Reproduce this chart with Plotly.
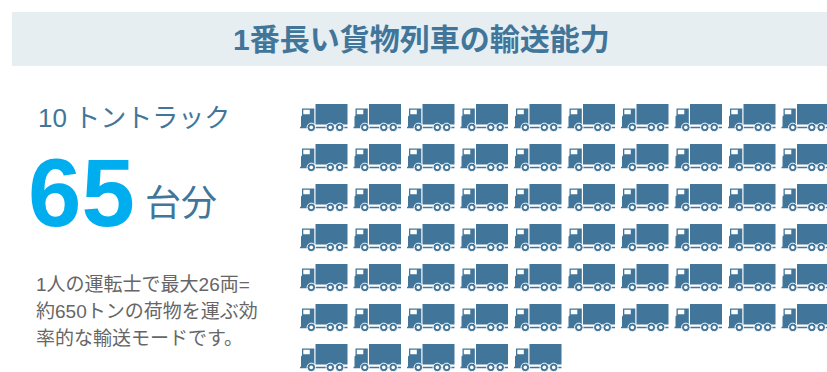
import plotly.graph_objects as go

# Pictogram contents
TITLE = "1番長い貨物列車の輸送能力"
UNIT_LABEL = "10 トントラック"
TRUCK_COUNT = 65
COUNT_SUFFIX = "台分"
NOTE_LINES = ["1人の運転士で最大26両=", "約650トンの荷物を運ぶ効", "率的な輸送モードです。"]
COLUMNS = 10

# Colours
BLUE = "#41769a"
CYAN = "#00aeef"
BAND = "#e6eef2"
GREY = "#666666"
JP = "Liberation Sans, Noto Sans CJK JP"

# Grid layout, in page pixels
X0, Y0, DX, DY = 300, 104, 53.5, 40

# Truck glyph outline, relative to its top-left corner
BOX = [(15.5, 0), (47.5, 0), (47.5, 20.5), (15.5, 20.5)]
CAB = [(2, 4.5), (14.3, 4.5), (14.3, 21), (14, 23), (1, 23), (1, 12.5), (2, 11.5)]
WINDOW = [(3.3, 5.7), (9.8, 5.7), (9.8, 10.2), (3.3, 10.2)]
CHASSIS = [(0, 22.7), (47.5, 22.7), (47.5, 24.3), (0, 24.3)]
WHEEL_X = [11.3, 30.3, 39.7]
WHEEL_Y = 23.4

origins = [(X0 + DX * (i % COLUMNS), Y0 + DY * (i // COLUMNS)) for i in range(TRUCK_COUNT)]


def polygons(outlines):
    """Join one outline per truck into a single gappy x/y pair."""
    xs, ys = [], []
    for ox, oy in origins:
        for outline in outlines:
            closed = outline + outline[:1]
            xs += [ox + p[0] for p in closed] + [None]
            ys += [oy + p[1] for p in closed] + [None]
    return xs, ys


def solid(outlines, color):
    xs, ys = polygons(outlines)
    return go.Scatter(x=xs, y=ys, mode="lines", fill="toself", fillcolor=color,
                      line=dict(width=0), hoverinfo="skip")


wheel_xs = [ox + w for ox, _ in origins for w in WHEEL_X]
wheel_ys = [oy + WHEEL_Y for _, oy in origins for _ in WHEEL_X]

fig = go.Figure()
fig.add_trace(solid([BOX, CAB, CHASSIS], BLUE))
fig.add_trace(solid([WINDOW], "white"))
fig.add_trace(go.Scatter(x=wheel_xs, y=wheel_ys, mode="markers", hoverinfo="skip",
                         marker=dict(size=8.5, color=BLUE, line=dict(color="white", width=1))))
fig.add_trace(go.Scatter(x=wheel_xs, y=wheel_ys, mode="markers", hoverinfo="skip",
                         marker=dict(size=3.6, color="white", line=dict(width=0))))

fig.add_shape(type="rect", x0=12, x1=827, y0=12, y1=66, fillcolor=BAND,
              line=dict(width=0), layer="below")


def label(text, x, y, size, color, anchor="left", family=JP, bold=False):
    fig.add_annotation(x=x, y=y, text=f"<b>{text}</b>" if bold else text, showarrow=False,
                       xanchor=anchor, yanchor="middle", align=anchor,
                       font=dict(family=family, size=size, color=color))


label(TITLE, 421, 39, 30, BLUE, anchor="center", bold=True)
label(UNIT_LABEL, 36, 118, 26, BLUE)
label(str(TRUCK_COUNT), 26, 192, 96, CYAN, family="Liberation Sans", bold=True)
label(COUNT_SUFFIX, 143, 203, 36, BLUE)
for line, y in zip(NOTE_LINES, [284, 311, 338]):
    label(line, 34, y, 19, GREY)

fig.update_layout(
    width=827, height=372, margin=dict(l=0, r=0, t=0, b=0),
    paper_bgcolor="white", plot_bgcolor="white", showlegend=False,
    xaxis=dict(range=[0, 827], visible=False, fixedrange=True),
    yaxis=dict(range=[372, 0], visible=False, fixedrange=True),
)
fig.write_html("out.html", config=dict(displayModeBar=False))
